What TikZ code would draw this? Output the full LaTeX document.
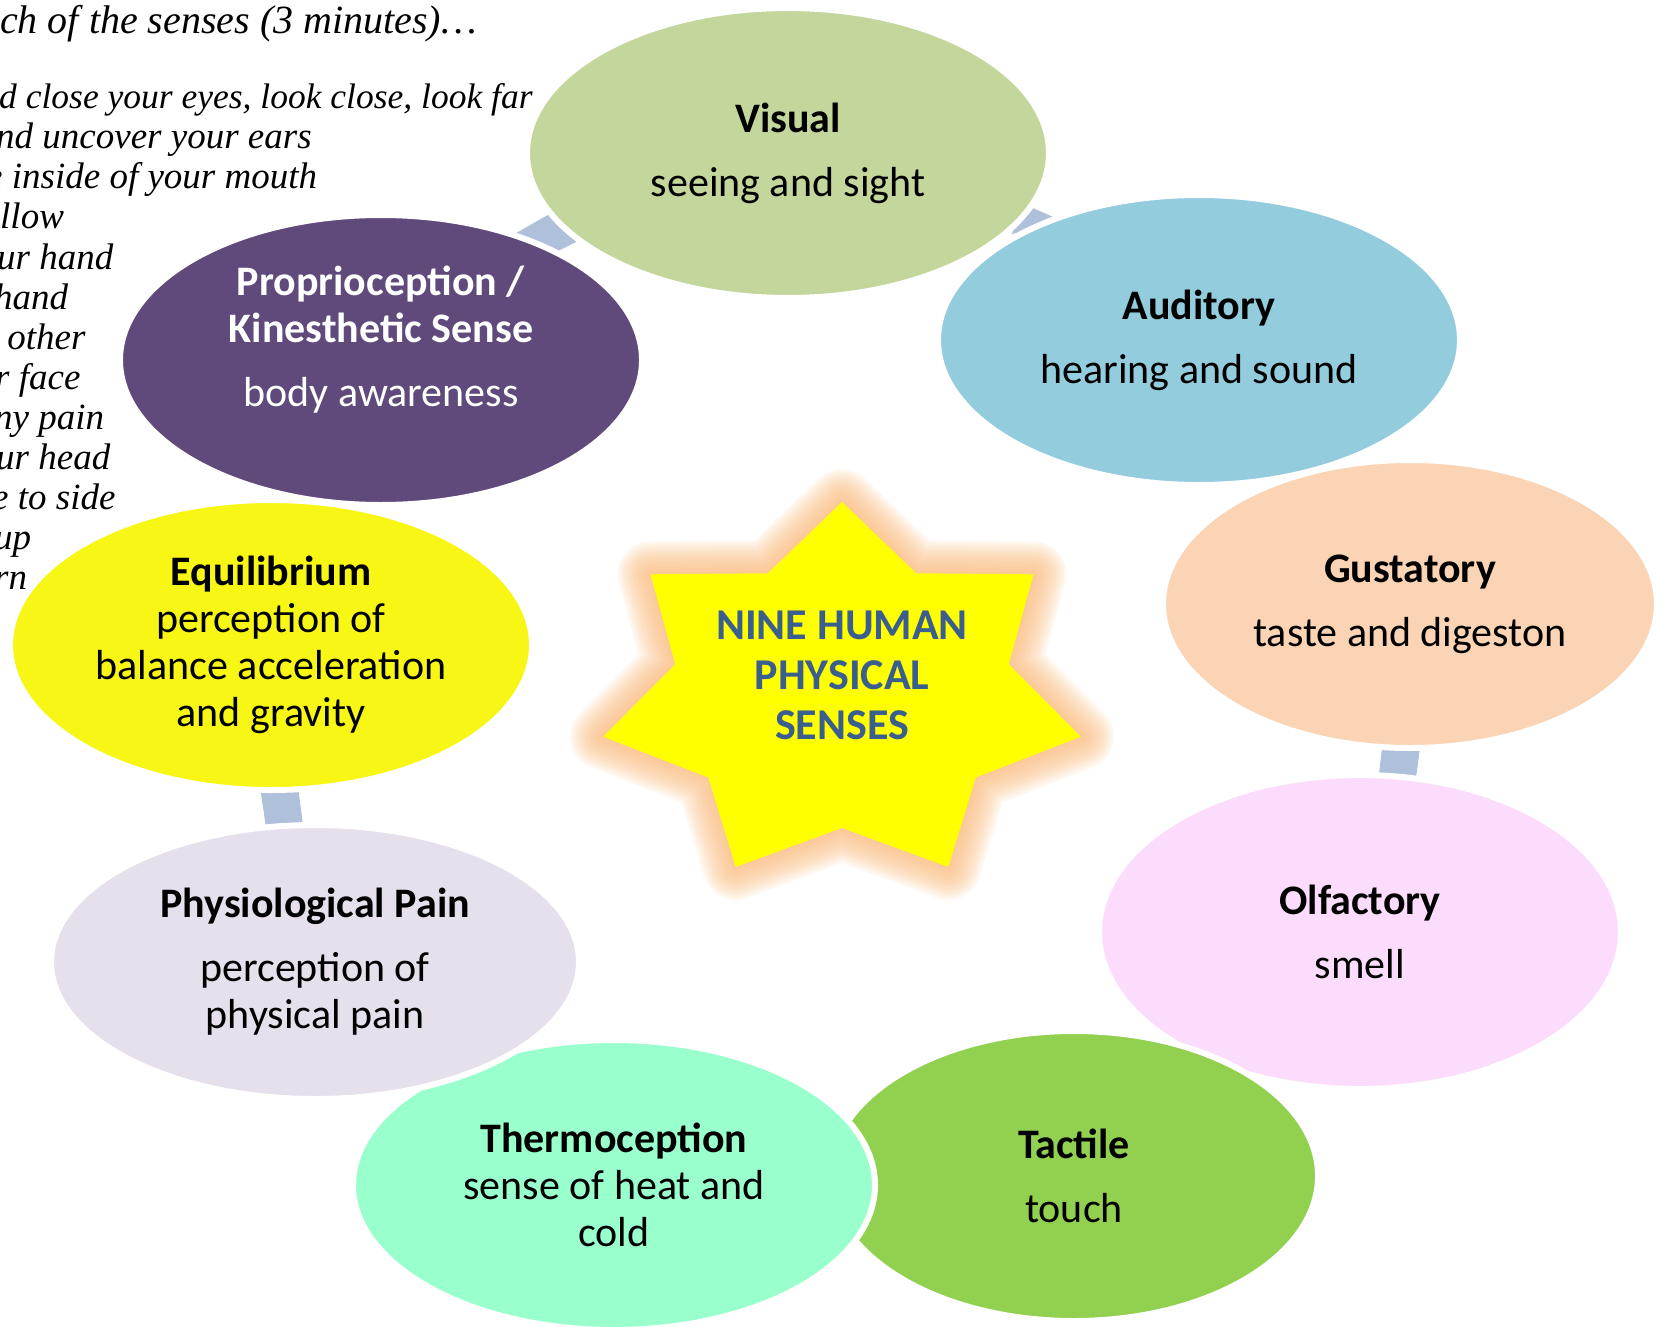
\documentclass[tikz,border=0pt]{standalone}
\usepackage{fontspec}
\newfontfamily\carl{Carlito}
\newfontfamily\notefont{Liberation Serif}
\usetikzlibrary{shapes.geometric}
\definecolor{cVis}{HTML}{C3D69B}
\definecolor{cAud}{HTML}{93CDDD}
\definecolor{cGus}{HTML}{FAD4B4}
\definecolor{cOlf}{HTML}{FCDCFC}
\definecolor{cTac}{HTML}{92D050}
\definecolor{cThe}{HTML}{99FFCC}
\definecolor{cPai}{HTML}{E5E0EC}
\definecolor{cEqu}{HTML}{F8F614}
\definecolor{cPro}{HTML}{604A7B}
\definecolor{cConn}{HTML}{AFC0DB}
\definecolor{cStarTxt}{HTML}{3A5E8E}
\definecolor{cGlow}{HTML}{F9B97A}
\definecolor{cStar}{HTML}{FFFF00}
\begin{document}
\begin{tikzpicture}[x=1pt,y=-1pt,
  sense/.style={ellipse, minimum width=522pt, minimum height=290pt, inner sep=0pt,
    draw=white, line width=6pt, align=center, text=black,
    font=\carl\fontsize{42}{47}\selectfont},
  conn/.style={fill=cConn},
  note/.style={anchor=base west, inner sep=0pt, font=\notefont\itshape\fontsize{37}{40}\selectfont},
  glow/.style={draw=cGlow, line join=round, opacity=0.1},
  hub/.style={align=center, text=cStarTxt, inner sep=0pt,
    font=\carl\bfseries\fontsize{44}{50}\selectfont}
]
\useasboundingbox (0,0) rectangle (1658,1327);

% instructions text (cut off at the left edge)
\node[note, font=\notefont\itshape\fontsize{40}{40}\selectfont] (n0) at (0,34) {ch of the senses (3 minutes)…};
\node[note, font=\notefont\itshape\fontsize{35.5}{40}\selectfont] (n1) at (-1,109) {d close your eyes, look close, look far};
\foreach \dx/\t [count=\i from 2] in {
  -4/{nd uncover your ears},
  -14/{e inside of your mouth},
  0/{llow},
  -3/{ur hand},
  -6/{hand},
  -2/{\ other},
  -5/{r face},
  -6/{ny pain},
  -4/{ur head},
  -8/{e to side},
  -6/{up},
  -6/{rn}}{
  \node[note] (n\i) at (\dx,69+40*\i) {\t};
}

% cycle connectors (visible parts between ellipses)
\fill[conn] (504,240) -- (560,208) -- (586,237) -- (550,255) -- cycle;
\fill[conn] (1019,202) -- (1067,223) -- (1012,234) -- cycle;
\fill[conn] (1383,740) -- (1421,741) -- (1415,785) -- (1378,782) -- cycle;
\fill[conn] (259,780) -- (297,779) -- (305,840) -- (268,841) -- cycle;

% star
\foreach \k in {0,...,13}{
  \pgfmathsetmacro\rx{iseven(\k) ? 245 : 171}
  \pgfmathsetmacro\ry{iseven(\k) ? 192 : 134}
  \pgfmathsetmacro\xx{842+\rx*cos(-90+\k*360/14)}
  \pgfmathsetmacro\yy{694+\ry*sin(-90+\k*360/14)}
  \coordinate (s\k) at (\xx,\yy);
}
\foreach \w in {66,61,...,6}{
  \draw[glow, line width=\w pt] (s0) -- (s1) -- (s2) -- (s3) -- (s4) -- (s5) -- (s6)
    -- (s7) -- (s8) -- (s9) -- (s10) -- (s11) -- (s12) -- (s13) -- cycle;
}
\fill[cStar] (s0) -- (s1) -- (s2) -- (s3) -- (s4) -- (s5) -- (s6)
    -- (s7) -- (s8) -- (s9) -- (s10) -- (s11) -- (s12) -- (s13) -- cycle;
\node[hub] (hub) at (842,675) {NINE HUMAN\\PHYSICAL\\SENSES};

% senses
\node[sense, fill=cVis] (vis) at (788,153) {\textbf{Visual}\\[17pt]seeing and sight};
\node[sense, fill=cAud] (aud) at (1199,340) {\textbf{Auditory}\\[17pt]hearing and sound};
\node[sense, fill=cGus, minimum width=494pt, minimum height=288pt] (gus) at (1410,604)
  {\textbf{Gustatory}\\[17pt]taste and digeston};
\node[sense, fill=cOlf, minimum height=314pt] (olf) at (1360,932) {\textbf{Olfactory}\\[17pt]smell};
\node[sense, fill=cTac, minimum width=488pt] (tac) at (1074,1176) {\textbf{Tactile}\\[17pt]touch};
\node[sense, fill=cThe] (the) at (614,1185) {\textbf{Thermoception}\\sense of heat and\\cold};
\node[sense, fill=cPai, minimum width=528pt, minimum height=274pt] (pai) at (315,962)
  {\textbf{Physiological Pain}\\[17pt]perception of\\physical pain};
\node[sense, fill=cEqu] (equ) at (271,645)
  {\textbf{Equilibrium}\\perception of\\balance acceleration\\and gravity};
\node[sense, fill=cPro, text=white] (pro) at (381,360)
  {\textbf{Proprioception /}\\\textbf{Kinesthetic Sense}\\[17pt]body awareness\\\mbox{}};
\end{tikzpicture}
\end{document}
